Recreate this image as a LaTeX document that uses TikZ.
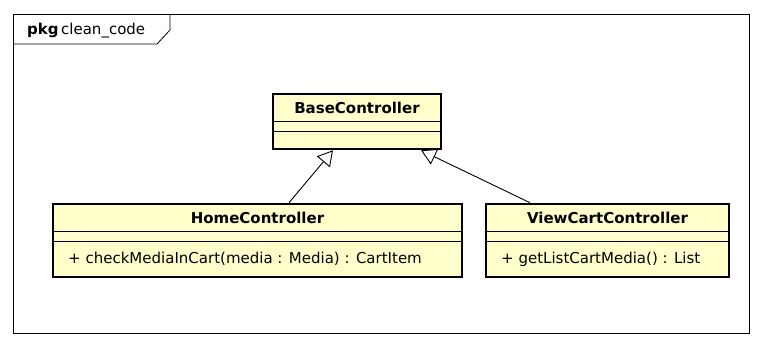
\documentclass[tikz,border=0pt]{standalone}
\usepackage{fontspec}
\setmainfont{DejaVu Sans}
\usepackage{tikz}
\usetikzlibrary{arrows.meta,calc}
\definecolor{clsfill}{RGB}{255,255,204}
\tikzset{
  cls/.style={draw, fill=clsfill, line width=2.6pt, inner sep=0pt},
  clsname/.style={font=\fontsize{15}{17}\selectfont\bfseries},
  member/.style={font=\fontsize{15}{17}\selectfont, anchor=west, inner sep=0pt},
  divider/.style={line width=0.8pt},
  extends/.style={-{Triangle[open, length=15pt, width=17pt]}, line width=0.9pt},
}

\begin{document}
\begin{tikzpicture}[x=1pt, y=-1pt]
    \useasboundingbox[fill=white] (0,0) rectangle (762,346);

    % package frame
    \draw[line width=0.8pt] (13,14) rectangle (749,333);
    \draw[line width=0.8pt] (13,44) -- (157,44) -- (170,30) -- (170,14);
    \node[anchor=west, inner sep=0pt, font=\fontsize{15}{17}\selectfont] (pkg) at (27,31)
        {\textbf{pkg}\,clean\_code};

    % classes
    \node[cls, minimum width=168pt, minimum height=55pt] (base) at (357,121.5) {};
    \node[cls, minimum width=409pt, minimum height=73pt] (home) at (257.5,240.5) {};
    \node[cls, minimum width=243pt, minimum height=73pt] (cart) at (607.5,240.5) {};

    \node[clsname] (baseName) at (357,108) {BaseController};
    \node[clsname] (homeName) at (257.5,218) {HomeController};
    \node[clsname] (cartName) at (607.5,218) {ViewCartController};

    \foreach \c in {base, home, cart} {
        \draw[divider] ($(\c.north west)+(0,29)$) -- ($(\c.north east)+(0,29)$);
        \draw[divider] ($(\c.north west)+(0,39)$) -- ($(\c.north east)+(0,39)$);
    }

    \node[member] (homeOp) at (68,259) {+ checkMediaInCart(media : Media) : CartItem};
    \node[member] (cartOp) at (501,259) {+ getListCartMedia() : List};

    % generalizations
    \draw[extends] (home.north -| 289,0) -- (base.south -| 333,0);
    \draw[extends] (cart.north -| 530,0) -- (base.south -| 421,0);

\end{tikzpicture}
\end{document}
